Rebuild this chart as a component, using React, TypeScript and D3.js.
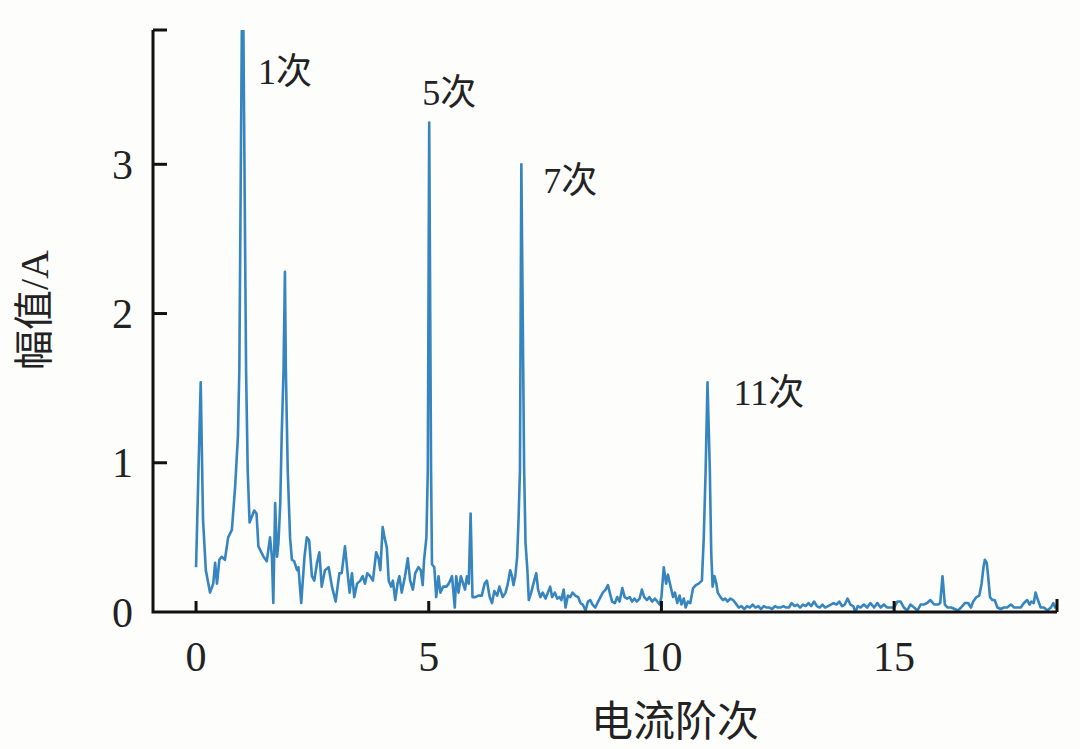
import React from "react";
import * as d3 from "d3";

// ---- data ----
const orders: number[] = [
  0.00, 0.10, 0.15, 0.21, 0.30, 0.37, 0.41, 0.45, 0.50, 0.55, 0.62, 0.69, 0.77, 0.84, 0.90, 0.93, 1.00, 1.075, 1.11, 1.15,
  1.20, 1.25, 1.30, 1.34, 1.45, 1.52, 1.59, 1.63, 1.66, 1.70, 1.74, 1.77, 1.81, 1.84, 1.88, 1.91, 1.93, 1.97, 2.02, 2.06,
  2.11, 2.17, 2.20, 2.26, 2.33, 2.38, 2.43, 2.49, 2.54, 2.60, 2.65, 2.70, 2.77, 2.85, 2.92, 3.00, 3.08, 3.13, 3.20, 3.25,
  3.30, 3.35, 3.40, 3.46, 3.53, 3.58, 3.63, 3.68, 3.74, 3.80, 3.87, 3.92, 3.96, 4.01, 4.05, 4.10, 4.14, 4.19, 4.23, 4.28,
  4.33, 4.37, 4.42, 4.49, 4.55, 4.60, 4.66, 4.71, 4.78, 4.83, 4.87, 4.90, 4.95, 4.98, 5.01, 5.05, 5.07, 5.12, 5.16, 5.21,
  5.25, 5.31, 5.38, 5.43, 5.50, 5.56, 5.59, 5.64, 5.69, 5.74, 5.78, 5.82, 5.86, 5.90, 5.94, 6.00, 6.07, 6.14, 6.20, 6.25,
  6.31, 6.36, 6.41, 6.47, 6.52, 6.59, 6.65, 6.70, 6.75, 6.79, 6.82, 6.86, 6.90, 6.93, 6.96, 6.99, 7.05, 7.08, 7.12, 7.15,
  7.20, 7.25, 7.31, 7.35, 7.40, 7.45, 7.51, 7.56, 7.61, 7.65, 7.71, 7.76, 7.81, 7.85, 7.90, 7.94, 7.99, 8.04, 8.09, 8.15,
  8.21, 8.26, 8.31, 8.37, 8.42, 8.47, 8.52, 8.58, 8.64, 8.69, 8.74, 8.80, 8.85, 8.89, 8.94, 9.00, 9.05, 9.10, 9.16, 9.21,
  9.26, 9.32, 9.37, 9.42, 9.47, 9.53, 9.58, 9.63, 9.69, 9.74, 9.80, 9.86, 9.91, 9.96, 10.00, 10.05, 10.10, 10.14, 10.19, 10.25,
  10.29, 10.34, 10.39, 10.43, 10.48, 10.52, 10.57, 10.62, 10.68, 10.74, 10.80, 10.87, 10.91, 10.95, 10.99, 11.04, 11.07, 11.10, 11.14, 11.18,
  11.21, 11.27, 11.32, 11.37, 11.42, 11.48, 11.54, 11.59, 11.66, 11.72, 11.78, 11.84, 11.90, 11.96, 12.02, 12.08, 12.14, 12.20, 12.26, 12.32,
  12.38, 12.44, 12.50, 12.56, 12.62, 12.68, 12.74, 12.80, 12.86, 12.92, 12.98, 13.04, 13.10, 13.16, 13.22, 13.28, 13.34, 13.40, 13.46, 13.52,
  13.58, 13.64, 13.70, 13.76, 13.82, 13.88, 13.94, 14.00, 14.06, 14.12, 14.17, 14.22, 14.28, 14.35, 14.42, 14.49, 14.57, 14.64, 14.71, 14.78,
  14.85, 14.92, 15.00, 15.07, 15.14, 15.21, 15.28, 15.35, 15.43, 15.50, 15.57, 15.64, 15.71, 15.78, 15.86, 15.94, 15.99, 16.04, 16.09, 16.15,
  16.23, 16.30, 16.37, 16.44, 16.52, 16.59, 16.65, 16.70, 16.77, 16.83, 16.88, 16.92, 16.95, 16.99, 17.02, 17.06, 17.11, 17.16, 17.22, 17.29,
  17.36, 17.43, 17.51, 17.58, 17.65, 17.72, 17.79, 17.86, 17.91, 17.95, 18.00, 18.04, 18.09, 18.15, 18.22, 18.29, 18.37, 18.42, 18.46, 18.51,
];

const amplitudes: number[] = [
  0.30, 1.54, 0.62, 0.28, 0.13, 0.19, 0.33, 0.19, 0.35, 0.37, 0.35, 0.50, 0.55, 0.84, 1.18, 1.62, 4.60, 1.62, 0.95, 0.60,
  0.64, 0.68, 0.66, 0.44, 0.37, 0.34, 0.50, 0.37, 0.06, 0.73, 0.37, 0.46, 0.73, 1.18, 1.62, 2.28, 1.62, 0.95, 0.50, 0.35,
  0.34, 0.28, 0.30, 0.06, 0.37, 0.50, 0.48, 0.24, 0.21, 0.33, 0.40, 0.17, 0.28, 0.30, 0.17, 0.07, 0.26, 0.26, 0.44, 0.28,
  0.13, 0.26, 0.10, 0.19, 0.21, 0.24, 0.19, 0.26, 0.24, 0.21, 0.40, 0.36, 0.28, 0.57, 0.50, 0.43, 0.21, 0.17, 0.21, 0.08,
  0.19, 0.24, 0.13, 0.24, 0.36, 0.21, 0.15, 0.26, 0.30, 0.28, 0.18, 0.35, 0.50, 0.95, 3.28, 0.95, 0.32, 0.30, 0.10, 0.24,
  0.13, 0.17, 0.17, 0.19, 0.24, 0.03, 0.24, 0.13, 0.24, 0.19, 0.15, 0.24, 0.19, 0.66, 0.10, 0.10, 0.11, 0.11, 0.19, 0.21,
  0.10, 0.06, 0.14, 0.11, 0.17, 0.10, 0.13, 0.19, 0.28, 0.24, 0.18, 0.24, 0.37, 0.62, 0.95, 3.00, 0.95, 0.46, 0.28, 0.08,
  0.13, 0.19, 0.26, 0.15, 0.10, 0.13, 0.09, 0.13, 0.17, 0.10, 0.13, 0.09, 0.10, 0.08, 0.15, 0.03, 0.11, 0.10, 0.13, 0.11,
  0.10, 0.06, 0.05, 0.01, 0.07, 0.08, 0.05, 0.03, 0.07, 0.10, 0.13, 0.15, 0.18, 0.13, 0.07, 0.06, 0.10, 0.07, 0.16, 0.10,
  0.09, 0.10, 0.07, 0.09, 0.07, 0.09, 0.15, 0.10, 0.08, 0.10, 0.07, 0.09, 0.07, 0.05, 0.10, 0.30, 0.19, 0.25, 0.18, 0.10,
  0.13, 0.06, 0.11, 0.05, 0.09, 0.03, 0.07, 0.06, 0.16, 0.18, 0.19, 0.21, 0.50, 0.95, 1.54, 0.95, 0.40, 0.17, 0.24, 0.19,
  0.13, 0.10, 0.08, 0.09, 0.07, 0.09, 0.08, 0.06, 0.03, 0.04, 0.02, 0.04, 0.03, 0.05, 0.03, 0.04, 0.02, 0.04, 0.03, 0.03,
  0.02, 0.04, 0.03, 0.03, 0.04, 0.03, 0.03, 0.06, 0.04, 0.05, 0.03, 0.05, 0.04, 0.06, 0.04, 0.07, 0.04, 0.03, 0.05, 0.03,
  0.04, 0.05, 0.06, 0.05, 0.07, 0.04, 0.05, 0.09, 0.05, 0.04, 0.00, 0.04, 0.03, 0.05, 0.03, 0.06, 0.03, 0.06, 0.03, 0.05,
  0.03, 0.03, 0.03, 0.07, 0.07, 0.03, 0.01, 0.05, 0.03, 0.01, 0.05, 0.05, 0.06, 0.08, 0.05, 0.05, 0.06, 0.24, 0.05, 0.03,
  0.03, 0.02, 0.01, 0.03, 0.06, 0.06, 0.03, 0.07, 0.10, 0.11, 0.19, 0.30, 0.35, 0.33, 0.24, 0.10, 0.08, 0.08, 0.03, 0.02,
  0.03, 0.03, 0.05, 0.03, 0.03, 0.03, 0.06, 0.08, 0.05, 0.07, 0.06, 0.13, 0.08, 0.03, 0.03, 0.01, 0.03, 0.06, 0.03, 0.05,
];

const xTicks: number[] = [0, 5, 10, 15];
const yTicks: number[] = [0, 1, 2, 3];
const xDomain: [number, number] = [-0.925, 18.5];
const yDomain: [number, number] = [0, 3.9];

const annLabels: string[] = ["1次", "5次", "7次", "11次"];
const annX: number[] = [1.33, 4.86, 7.46, 11.55];
const annY: number[] = [3.54, 3.40, 2.81, 1.39];

const xTitle = "电流阶次";
const yTitle = "幅值/A";

export default function App() {
  const W = 1080;
  const H = 749;
  const left = 153, right = 1057, top = 30, bottom = 612;
  const x = d3.scaleLinear().domain(xDomain).range([left, right]);
  const y = d3.scaleLinear().domain(yDomain).range([bottom, top]);

  const pts = orders.map((o, i) => [o, amplitudes[i]] as [number, number]);
  const line = d3
    .line<[number, number]>()
    .x((d) => x(d[0]))
    .y((d) => y(d[1]));

  const font = "'Liberation Serif', 'Times New Roman', 'Noto Sans CJK SC', serif";
  const cjk = "'Liberation Serif', 'Noto Sans CJK SC', serif";

  return (
    <svg
      width={W}
      height={H}
      style={{ position: "absolute", left: 0, top: 0, background: "#fdfdfc" }}
    >
      <defs>
        <clipPath id="plotClip">
          <rect x={left} y={top} width={right - left + 2} height={bottom - top} />
        </clipPath>
      </defs>
      <path
        d={line(pts) || ""}
        fill="none"
        stroke="#3685bf"
        strokeWidth={2.6}
        strokeLinejoin="round"
        clipPath="url(#plotClip)"
      />
      {/* axes */}
      <path
        d={`M${left},${top}V${bottom}H${right}`}
        fill="none"
        stroke="#111"
        strokeWidth={3}
      />
      <line x1={left} x2={left + 14} y1={top} y2={top} stroke="#111" strokeWidth={3} />
      <line x1={right} x2={right} y1={bottom} y2={bottom - 13} stroke="#111" strokeWidth={3} />
      {yTicks.map((t) => (
        <g key={"y" + t}>
          {t !== 0 && (
            <line x1={left} x2={left + 14} y1={y(t)} y2={y(t)} stroke="#111" strokeWidth={3} />
          )}
          <text
            x={left - 20}
            y={y(t)}
            dy="0.35em"
            textAnchor="end"
            fontFamily={font}
            fontSize={42}
            fill="#222"
          >
            {t}
          </text>
        </g>
      ))}
      {xTicks.map((t) => (
        <g key={"x" + t}>
          <line x1={x(t)} x2={x(t)} y1={bottom} y2={bottom - 11} stroke="#111" strokeWidth={3} />
          <text
            x={x(t)}
            y={bottom + 59}
            textAnchor="middle"
            fontFamily={font}
            fontSize={42}
            fill="#222"
          >
            {t}
          </text>
        </g>
      ))}
      {annLabels.map((s, i) => (
        <text
          key={s}
          x={x(annX[i])}
          y={y(annY[i])}
          fontFamily={cjk}
          fontSize={36}
          fill="#222"
        >
          {s}
        </text>
      ))}
      <text
        x={675}
        y={736}
        textAnchor="middle"
        fontFamily={cjk}
        fontSize={42}
        fill="#222"
      >
        {xTitle}
      </text>
      <text
        transform={`translate(48,310) rotate(-90)`}
        textAnchor="middle"
        fontFamily={cjk}
        fontSize={40}
        fill="#222"
      >
        {yTitle}
      </text>
    </svg>
  );
}
